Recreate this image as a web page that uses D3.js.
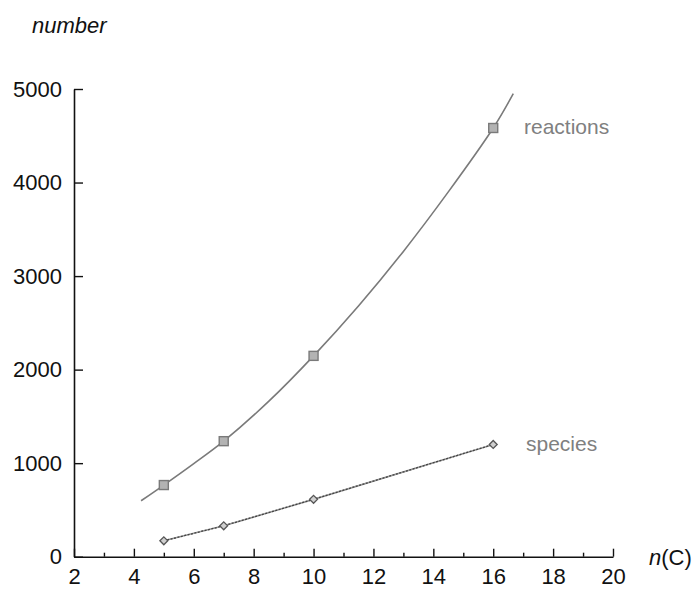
<!DOCTYPE html>
<html>
<head>
<meta charset="utf-8">
<script src="https://cdn.jsdelivr.net/npm/d3@7"></script>
<style>
  html, body { margin: 0; padding: 0; background: #fff; }
  svg { display: block; }
  text { font-family: "Liberation Sans", Arial, Helvetica, sans-serif; }
</style>
</head>
<body>
<svg id="chart" width="693" height="589"></svg>
<script>
// Carbon number n(C) of the fuel
const carbonNumbers = [5, 7, 10, 16];
// Mechanism sizes
const reactions = [766, 1235, 2147, 4583];
const species = [170, 330, 613, 1200];
// Smooth trend drawn through the reaction counts (n(C), number)
const reactionsTrendX = [4.24, 5, 6, 7, 8.5, 10, 11.5, 13, 14.5, 16, 16.67];
const reactionsTrendY = [598, 766, 995, 1235, 1660, 2147, 2680, 3264, 3900, 4583, 4951];

const xTicks = [2, 4, 6, 8, 10, 12, 14, 16, 18, 20];
const xMinorTicks = [3, 5, 7, 9, 11, 13, 15, 17, 19];
const yTicks = [0, 1000, 2000, 3000, 4000, 5000];

const svg = d3.select("#chart");

const x = d3.scaleLinear().domain([2, 20]).range([74, 613]);
const y = d3.scaleLinear().domain([0, 5000]).range([556.7, 89]);

const axisColor = "#111";

// x axis: major ticks labelled, minor ticks shorter
const xAxis = svg.append("g")
  .attr("transform", `translate(0,${y(0)})`)
  .call(d3.axisBottom(x).tickValues(xTicks).tickSizeInner(-8).tickSizeOuter(0).tickFormat(d3.format("d")));
xAxis.select(".domain").attr("stroke", axisColor).attr("stroke-width", 1.6);
xAxis.selectAll(".tick line").attr("stroke", axisColor).attr("stroke-width", 1.4);
xAxis.selectAll(".tick text")
  .attr("y", 27).attr("dy", null)
  .attr("font-size", 22).attr("fill", axisColor);

const xMinor = svg.append("g")
  .attr("transform", `translate(0,${y(0)})`)
  .call(d3.axisBottom(x).tickValues(xMinorTicks).tickSizeInner(-4).tickSizeOuter(0).tickFormat(""));
xMinor.select(".domain").remove();
xMinor.selectAll(".tick line").attr("stroke", axisColor).attr("stroke-width", 1.4);

// y axis with ticks pointing inward
const yAxis = svg.append("g")
  .attr("transform", `translate(${x(2)},0)`)
  .call(d3.axisLeft(y).tickValues(yTicks).tickSizeInner(-9).tickSizeOuter(0).tickFormat(d3.format("d")));
yAxis.select(".domain").attr("stroke", axisColor).attr("stroke-width", 1.6);
yAxis.selectAll(".tick line").attr("stroke", axisColor).attr("stroke-width", 1.4);
yAxis.selectAll(".tick text")
  .attr("x", -12)
  .attr("font-size", 22).attr("fill", axisColor);

// Axis titles
svg.append("text")
  .attr("x", 32).attr("y", 33)
  .attr("font-size", 22).attr("font-style", "italic").attr("fill", axisColor)
  .text("number");

const nLabel = svg.append("text")
  .attr("x", 649).attr("y", 565)
  .attr("font-size", 22).attr("fill", axisColor);
nLabel.append("tspan").attr("font-style", "italic").text("n");
nLabel.append("tspan").text("(C)");

// Reactions: smooth trend through the counts
const reactionsPts = carbonNumbers.map((c, i) => [c, reactions[i]]);
const reactionsTrend = reactionsTrendX.map((c, i) => [c, reactionsTrendY[i]]);

const smoothLine = d3.line()
  .x(d => x(d[0])).y(d => y(d[1]))
  .curve(d3.curveCatmullRom.alpha(0.5));

svg.append("path")
  .datum(reactionsTrend)
  .attr("d", smoothLine)
  .attr("fill", "none")
  .attr("stroke", "#7a7a7a")
  .attr("stroke-width", 1.6);

// Species: straight segments
const speciesPts = carbonNumbers.map((c, i) => [c, species[i]]);
const straightLine = d3.line().x(d => x(d[0])).y(d => y(d[1]));

svg.append("path")
  .datum(speciesPts)
  .attr("d", straightLine)
  .attr("fill", "none")
  .attr("stroke", "#999")
  .attr("stroke-width", 1.6);
svg.append("path")
  .datum(speciesPts)
  .attr("d", straightLine)
  .attr("fill", "none")
  .attr("stroke", "#444")
  .attr("stroke-width", 1.3)
  .attr("stroke-dasharray", "2,1.5");

// Square markers for reactions
svg.append("g").selectAll("rect")
  .data(reactionsPts)
  .join("rect")
  .attr("x", d => x(d[0]) - 4.5)
  .attr("y", d => y(d[1]) - 4.5)
  .attr("width", 9).attr("height", 9)
  .attr("fill", "#b3b3b3")
  .attr("stroke", "#7a7a7a")
  .attr("stroke-width", 1.4);

// Diamond markers for species
const diamond = d3.symbol().type(d3.symbolDiamond2).size(40);
svg.append("g").selectAll("path")
  .data(speciesPts)
  .join("path")
  .attr("transform", d => `translate(${x(d[0])},${y(d[1])})`)
  .attr("d", diamond)
  .attr("fill", "#cfcfcf")
  .attr("stroke", "#555")
  .attr("stroke-width", 1.3);

// Series labels
svg.append("text")
  .attr("x", 524).attr("y", 134)
  .attr("font-size", 21).attr("fill", "#808080")
  .text("reactions");
svg.append("text")
  .attr("x", 526).attr("y", 451)
  .attr("font-size", 21).attr("fill", "#808080")
  .text("species");
</script>
</body>
</html>
